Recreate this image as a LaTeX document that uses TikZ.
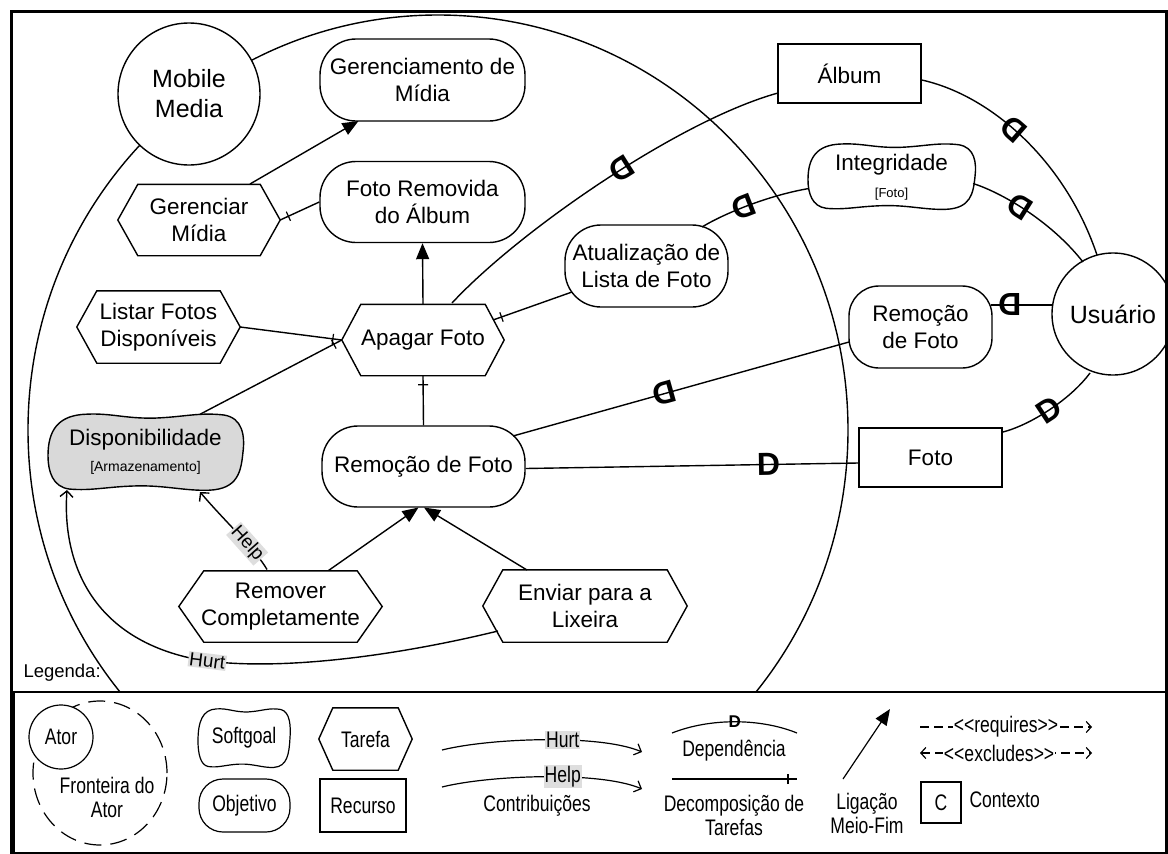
\documentclass[tikz,border=0pt]{standalone}
\usepackage{fontspec}
\setmainfont{Liberation Sans}
\newfontfamily\legfont{Liberation Sans}[FakeStretch=0.78]
\usetikzlibrary{arrows.meta,calc,decorations.markings,shapes.geometric}
\newcommand\sgpath[5][]{%
  \begin{scope}[shift={(#2,#3)},xscale=#4,yscale=#5]
  \draw[ln,#1] (-1,0.1) .. controls (-1.0,-0.55) and (-0.9,-0.95) .. (-0.6,-0.97)
   .. controls (-0.35,-1.0) and (-0.2,-0.85) .. (0.1,-0.87)
   .. controls (0.4,-0.9) and (0.55,-1.02) .. (0.8,-0.95)
   .. controls (1.0,-0.88) and (1.02,-0.4) .. (1.0,0.0)
   .. controls (0.98,0.5) and (0.95,0.95) .. (0.65,0.98)
   .. controls (0.4,1.0) and (0.2,0.85) .. (-0.1,0.87)
   .. controls (-0.4,0.89) and (-0.55,1.0) .. (-0.78,0.95)
   .. controls (-0.95,0.9) and (-1.0,0.5) .. (-1,0.1) -- cycle;
  \end{scope}}
\newcommand\hexpath[2]{%
  \draw[ln] (#1.west) -- ([xshift=#2pt]#1.north west) -- ([xshift=-#2pt]#1.north east) -- (#1.east) -- ([xshift=-#2pt]#1.south east) -- ([xshift=#2pt]#1.south west) -- cycle;}
\begin{document}
\begin{tikzpicture}[x=1pt,y=-1pt,
  every node/.style={font=\fontsize{22.5}{26.5}\selectfont, align=center},
  ln/.style={line width=1.4pt},
  actor/.style={circle, draw, ln, fill=white, inner sep=0pt, font=\fontsize{25}{30}\selectfont},
  goal/.style={draw, ln, fill=white, rounded corners=36pt, inner sep=0pt},
  res/.style={draw, ln, fill=white, inner sep=0pt},
  task/.style={inner sep=0pt},
  sg/.style={inner sep=0pt},
  meansend/.style={ln, -{Triangle[length=16pt,width=13pt]}},
  contrib/.style={ln, -{Straight Barb[length=6pt,width=13pt]}},
  decomp/.style={ln, decoration={markings, mark=at position -9pt with {\draw[line width=1.2pt] (0pt,-5pt) -- (0pt,5pt);}}, postaction={decorate}},
  dep/.style={ln},
  dmark/.style={font=\fontsize{32}{32}\bfseries\selectfont, inner sep=0pt, sloped, allow upside down},
  clab/.style={fill=black!13, inner sep=1pt, font=\fontsize{19}{22}\selectfont},
  lfont/.style={font=\legfont\fontsize{22.5}{24}\selectfont},
  lln/.style={line width=1.2pt}]
\useasboundingbox (0,0) rectangle (1168,854);
\clip (0,0) rectangle (1168,854);
% actor boundary
\begin{scope}
\clip (0,0) rectangle (1168,692);
\draw[ln] (438,430) ellipse [x radius=410pt, y radius=415pt];
\end{scope}
% actors
\node[actor, minimum size=142pt] (mm) at (189,94) {Mobile\\Media};
\node[actor, minimum size=122pt] (usr) at (1113,314) {Usuário};
% goals
\node[goal, minimum width=205pt, minimum height=82pt] (ger) at (422.5,80) {Gerenciamento de\\Mídia};
\node[goal, minimum width=205pt, minimum height=81pt] (fra) at (422.5,202) {Foto Removida\\do Álbum};
\node[goal, minimum width=203pt, minimum height=81pt] (rf) at (423.5,466.5) {Remoção de Foto};
\node[goal, minimum width=163pt, minimum height=82pt] (at) at (646.5,266) {Atualização de\\Lista de Foto};
\node[goal, minimum width=143pt, minimum height=82pt, rounded corners=30pt] (rf2) at (920.5,327) {Remoção\\de Foto};
% resources
\node[res, minimum width=143pt, minimum height=59pt] (alb) at (849.5,73.5) {Álbum};
\node[res, minimum width=143pt, minimum height=59pt] (foto) at (930.5,457.5) {Foto};
% tasks
\node[task, minimum width=162pt, minimum height=71pt] (gm) at (199,220) {Gerenciar\\Mídia};
\hexpath{gm}{20}
\node[task, minimum width=163pt, minimum height=72pt] (lfd) at (158.5,327) {Listar Fotos\\Disponíveis};
\hexpath{lfd}{20}
\node[task, minimum width=162pt, minimum height=71pt] (ap) at (423,340) {Apagar Foto};
\hexpath{ap}{19}
\node[task, minimum width=203pt, minimum height=71pt] (rc) at (280.5,606.5) {Remover\\Completamente};
\hexpath{rc}{25}
\node[task, minimum width=204pt, minimum height=72pt] (el) at (585,606) {Enviar para a\\Lixeira};
\hexpath{el}{20}
% softgoals
\sgpath[fill=black!15]{145.5}{452}{97.5}{39}
\node[sg, minimum width=195pt, minimum height=78pt] (disp) at (145.5,452) {Disponibilidade\\{\fontsize{14}{16}\selectfont [Armazenamento]}};
\sgpath{891.5}{176.5}{83.5}{33.5}
\node[sg, minimum width=167pt, minimum height=67pt] (integ) at (891.5,177) {Integridade\\{\fontsize{13}{15}\selectfont [Foto]}};
% internal links
\draw[meansend] ($(gm)+(51,-36)$) -- ($(ger)+(-64,41)$);
\draw[decomp] (fra.west) -- (gm.east);
\draw[meansend] (ap.north) -- (fra.south);
\draw[decomp] (lfd.east) -- (ap.west);
\draw[decomp] ($(disp)+(55,-38)$) -- (ap.west);
\draw[decomp] ($(at)+(-74.5,26)$) -- ($(ap)+(70,-20)$);
\draw[decomp] (rf.north) -- (ap.south);
\draw[meansend] ($(rc)+(48,-36)$) -- ($(rf)+(-5,41)$);
\draw[meansend] ($(el)+(-58,-36)$) -- ($(rf)+(0.5,41)$);
\draw[contrib] ($(rc)+(-13.5,-37)$) .. controls ($(rc)+(-25,-57)$) and ($(disp)+(80,70)$) .. ($(disp)+(54.5,40)$) node[clab, sloped, pos=0.38]{Help};
\draw[contrib] ($(el)+(-87,25)$) .. controls (400,655) and (280,672) .. (200,660) node[clab, sloped, pos=0.97]{Hurt} .. controls (90,640) and (62,560) .. ($(disp)+(-78.5,38)$);
% dependencies
\draw[dep] ($(alb)+(-71.5,19.5)$) .. controls (680,120) and (520,230) .. ($(ap)+(29,-37)$) node[dmark,pos=0.45]{D};
\draw[dep] ($(usr)+(-16,-59)$) .. controls (1065,160) and (990,95) .. ($(alb.east)+(0,6.5)$) node[dmark,pos=0.55]{D};
\draw[dep] ($(usr)+(-30,-52)$) .. controls (1050,220) and (1000,192) .. ($(integ)+(81.5,6.5)$) node[dmark,pos=0.55]{D};
\draw[dep] ($(integ)+(-82.5,11.5)$) .. controls (770,195) and (725,213) .. ($(at)+(55.5,-39)$) node[dmark,pos=0.55]{D};
\draw[dep] ($(usr)+(-60,-9)$) -- ($(rf2)+(70,-22)$) node[dmark,pos=0.69]{D};
\draw[dep] ($(rf2)+(-71.5,15)$) -- ($(rf)+(89.5,-30.5)$) node[dmark,pos=0.55]{D};
\draw[dep] ($(rf.east)+(0,2)$) -- ($(foto.west)+(0,5.5)$) node[dmark,pos=0.73]{D};
\draw[dep] ($(foto)+(72.5,-25.5)$) .. controls (1030,425) and (1070,400) .. ($(usr)+(-23,59)$) node[dmark,pos=0.5]{D};
% frame and legend
\draw[line width=3pt] (11,11) rectangle (1166,853);
\draw[line width=1.5pt] (14,692) rectangle (1166,853);
\node[anchor=west, font=\fontsize{18.5}{20}\selectfont] (leg) at (20,673) {Legenda:};
\node[ellipse, draw, lln, dash pattern=on 17pt off 9pt, minimum width=134pt, minimum height=144pt] (lfr) at (100,773) {};
\node[actor, lln, lfont, minimum size=64pt] (lator) at (61,737) {Ator};
\node[lfont] (lfrt) at (107,797) {Fronteira do\\Ator};
\sgpath[lln]{244}{738}{46}{30}
\node[lfont] (lsg) at (244,738) {Softgoal};
\node[goal, lln, lfont, minimum width=91pt, minimum height=53pt, rounded corners=24pt] (lob) at (244.5,805.5) {Objetivo};
\node[task, lfont, minimum width=93pt, minimum height=62pt] (lta) at (365.5,739) {Tarefa};
\hexpath{lta}{14}
\node[res, lln, lfont, minimum width=86pt, minimum height=53pt] (lre) at (363,805.5) {Recurso};
\coordinate (hu1) at (442,750); \coordinate (hu2) at (642,752);
\draw[lln, -{Straight Barb[length=6pt,width=12pt]}] (hu1) .. controls (490,738) and (600,734) .. (hu2) node[clab, lfont, pos=0.58]{Hurt};
\coordinate (he1) at (442,787); \coordinate (he2) at (642,789);
\draw[lln, -{Straight Barb[length=6pt,width=12pt]}] (he1) .. controls (490,775) and (600,771) .. (he2) node[clab, lfont, pos=0.58]{Help};
\node[lfont] (lco) at (537,806) {Contribuições};
\coordinate (de1) at (672,733); \coordinate (de2) at (797,733);
\draw[lln] (de1) .. controls (710,718) and (760,718) .. (de2) node[pos=0.5, inner sep=0pt, font=\fontsize{17}{17}\bfseries\selectfont]{D};
\node[lfont] (lde) at (734,751) {Dependência};
\coordinate (dc1) at (672,779); \coordinate (dc2) at (797,779);
\draw[decomp, lln] (dc1) -- (dc2);
\node[lfont] (ldc) at (734,815) {Decomposição de\\Tarefas};
\coordinate (me1) at (843,779); \coordinate (me2) at (890,709);
\draw[meansend, lln] (me1) -- (me2);
\node[lfont] (lme) at (867,813) {Ligação\\Meio-Fim};
\coordinate (rq1) at (920,727); \coordinate (rq2) at (1092,727);
\draw[lln, dash pattern=on 9pt off 5pt, -{Straight Barb[length=5pt,width=11pt]}] (rq1) -- (rq2) node[lfont, fill=white, inner sep=1pt, pos=0.5]{<\kern0pt<requires>\kern0pt>};
\coordinate (ex1) at (920,753); \coordinate (ex2) at (1092,753);
\draw[lln, dash pattern=on 9pt off 5pt, {Straight Barb[length=5pt,width=11pt]}-{Straight Barb[length=5pt,width=11pt]}] (ex1) -- (ex2) node[lfont, fill=white, inner sep=1pt, pos=0.46]{<\kern0pt<excludes>\kern0pt>};
\node[res, lln, lfont, minimum width=40pt, minimum height=41pt] (lctx) at (941,802.5) {C};
\node[lfont, anchor=west] (lctxt) at (966,800) {Contexto};
\end{tikzpicture}
\end{document}
